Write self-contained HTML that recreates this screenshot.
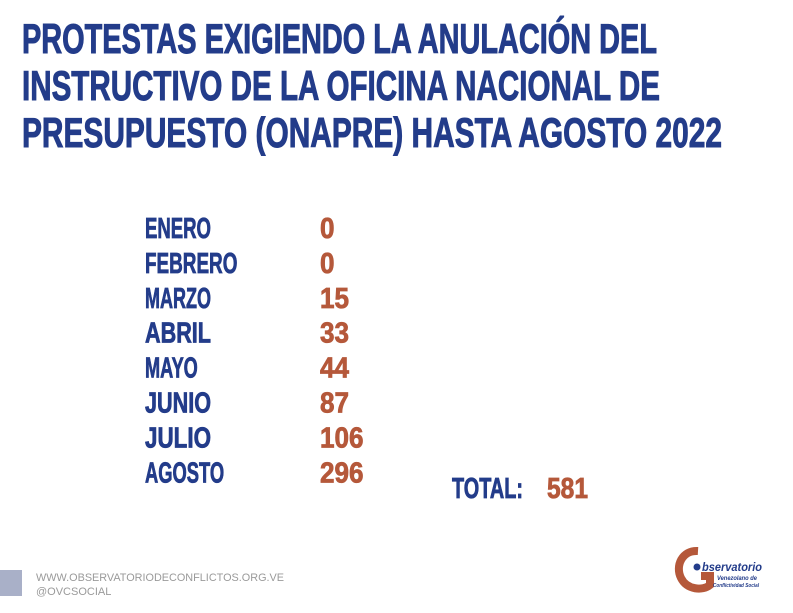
<!DOCTYPE html>
<html><head><meta charset="utf-8"><style>
html,body{margin:0;padding:0;background:#fff;}
svg{display:block;}
</style></head><body>
<svg id="chart" width="793" height="613" viewBox="0 0 793 613" xmlns="http://www.w3.org/2000/svg">
<g font-family="'Liberation Sans Narrow','Liberation Sans',sans-serif" font-weight="bold" fill="#233c8a" stroke="#233c8a" stroke-width="1">
<text x="22" y="53" font-size="42" textLength="635" lengthAdjust="spacingAndGlyphs">PROTESTAS EXIGIENDO LA ANULACIÓN DEL</text>
<text x="22" y="100" font-size="42" textLength="638" lengthAdjust="spacingAndGlyphs">INSTRUCTIVO DE LA OFICINA NACIONAL DE</text>
<text x="22" y="147" font-size="42" textLength="700" lengthAdjust="spacingAndGlyphs">PRESUPUESTO (ONAPRE) HASTA AGOSTO 2022</text>
</g>
<g id="rows"></g>
<text x="452" y="498" font-family="'Liberation Sans Narrow','Liberation Sans',sans-serif" font-weight="bold" font-size="29" fill="#233c8a" stroke="#233c8a" stroke-width="0.8" textLength="71" lengthAdjust="spacingAndGlyphs">TOTAL:</text>
<text id="totalVal" x="547" y="498" font-family="'Liberation Sans Narrow','Liberation Sans',sans-serif" font-weight="bold" font-size="29" fill="#b5583a" stroke="#b5583a" stroke-width="0.8" textLength="41" lengthAdjust="spacingAndGlyphs">581</text>
<rect x="0" y="570" width="22" height="26" fill="#a9b0c8"/>
<text x="36" y="581" font-family="'Liberation Sans',sans-serif" font-size="11" fill="#9a9a9a" textLength="248" lengthAdjust="spacingAndGlyphs">WWW.OBSERVATORIODECONFLICTOS.ORG.VE</text>
<text x="36" y="595" font-family="'Liberation Sans',sans-serif" font-size="11" fill="#9a9a9a">@OVCSOCIAL</text>
<g>
<path d="M698 551 C682 550 675 566 681 578 C687 590 703 591 710 585 L710 576 L701 576" fill="none" stroke="#b5583a" stroke-width="8"/>
<circle cx="697" cy="567" r="3.5" fill="#233c8a"/>
<text x="702" y="571" font-family="'Liberation Sans',sans-serif" font-style="italic" font-weight="bold" font-size="12" fill="#233c8a" textLength="60" lengthAdjust="spacingAndGlyphs">bservatorio</text>
<text x="717" y="580" font-family="'Liberation Sans',sans-serif" font-style="italic" font-weight="bold" font-size="6" fill="#233c8a" textLength="40" lengthAdjust="spacingAndGlyphs">Venezolano de</text>
<text x="713" y="587" font-family="'Liberation Sans',sans-serif" font-style="italic" font-weight="bold" font-size="5" fill="#233c8a" textLength="46" lengthAdjust="spacingAndGlyphs">Conflictividad Social</text>
</g>
</svg>
<script>
const months = ["ENERO","FEBRERO","MARZO","ABRIL","MAYO","JUNIO","JULIO","AGOSTO"];
const counts = [0,0,15,33,44,87,106,296];
const NS="http://www.w3.org/2000/svg";
const g=document.getElementById('rows');
const rowY=i=>238+i*34.9;
const F="'Liberation Sans Narrow','Liberation Sans',sans-serif";
months.forEach((m,i)=>{
  const t=document.createElementNS(NS,'text');
  t.setAttribute('x',145);t.setAttribute('y',rowY(i));
  t.setAttribute('font-family',F);t.setAttribute('font-weight','bold');t.setAttribute('font-size','29');
  t.setAttribute('fill','#233c8a');t.setAttribute('stroke','#233c8a');t.setAttribute('stroke-width','0.8');
  t.setAttribute('textLength',m.length*13.2);t.setAttribute('lengthAdjust','spacingAndGlyphs');
  t.textContent=m;
  
  
  g.appendChild(t);
  const v=document.createElementNS(NS,'text');
  const s=String(counts[i]);
  v.setAttribute('x',320);v.setAttribute('y',rowY(i));
  v.setAttribute('font-family',F);v.setAttribute('font-weight','bold');v.setAttribute('font-size','29');
  v.setAttribute('fill','#b5583a');v.setAttribute('stroke','#b5583a');v.setAttribute('stroke-width','0.8');
  v.setAttribute('textLength',s.length*14.5);v.setAttribute('lengthAdjust','spacingAndGlyphs');
  v.textContent=s;
  
  
  g.appendChild(v);
});
document.getElementById('totalVal').textContent=String(counts.reduce((a,b)=>a+b,0));
</script>
</body></html>
